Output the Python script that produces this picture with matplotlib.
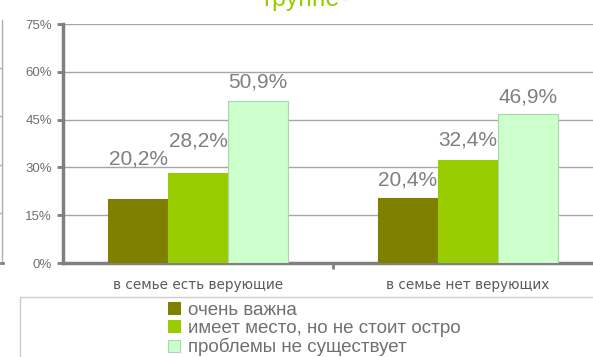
import matplotlib
matplotlib.use("Agg")
import matplotlib.pyplot as plt
from matplotlib.patches import Rectangle
from matplotlib.lines import Line2D
from matplotlib.ticker import FuncFormatter
import numpy as np

plt.rcParams['font.family'] = ['Liberation Sans', 'DejaVu Sans']

categories = ["в семье есть верующие", "в семье нет верующих"]
series_names = ["очень важна", "имеет место, но не стоит остро", "проблемы не существует"]
values_important = [20.2, 20.4]
values_present = [28.2, 32.4]
values_absent = [50.9, 46.9]
yticks = [0, 15, 30, 45, 60, 75]
title_text = "группе"

colors = ["#808000", "#99cc00", "#ccffcc"]
edges = ["#808000", "#99cc00", "#a8d8a8"]
gray = "#7f7f7f"

# vertical distance (pixels) from bar top to the centre of its value label
label_lift = [[40, 18], [32, 20], [19, 17]]

W, H = 593, 357
fig = plt.figure(figsize=(W / 100, H / 100), dpi=100)

def fx(px):
    return px / W

def fy(py):
    return 1 - py / H

ax_h_px = 263 - 24
ax = fig.add_axes([fx(63), fy(263), (603 - 63) / W, ax_h_px / H])
ax.set_facecolor("white")
px_per_unit = ax_h_px / 75.0

x = np.arange(len(categories))
width = 60 / 270
all_series = [values_important, values_present, values_absent]
handles = []
for i, vals in enumerate(all_series):
    bars = ax.bar(x + (i - 1) * width, vals, width, color=colors[i],
                  edgecolor=edges[i], linewidth=0.8, label=series_names[i], zorder=3)
    handles.append(bars)
    for j, (b, v) in enumerate(zip(bars, vals)):
        ax.text(b.get_x() + b.get_width() / 2, v + label_lift[i][j] / px_per_unit,
                f"{v:.1f}%".replace(".", ","), ha="center", va="center",
                fontsize=15, color=gray, zorder=4)

ax.set_xlim(-0.5, 1.5)
ax.set_ylim(0, 75)
ax.set_yticks(yticks)
ax.yaxis.set_major_formatter(FuncFormatter(lambda v, p: f"{v:.0f}%"))
ax.yaxis.grid(True, color="#a6a6a6", linewidth=1.0, zorder=0)
ax.set_axisbelow(True)

for side in ["top", "right"]:
    ax.spines[side].set_visible(False)
for side in ["left", "bottom"]:
    ax.spines[side].set_color("#808080")
    ax.spines[side].set_linewidth(2.5)

ax.tick_params(axis="y", direction="out", length=4, width=2, color="#808080",
               labelsize=9.5, labelcolor="#6f6f6f", pad=4)
ax.set_xticks([0.5])
ax.set_xticklabels([""])
ax.tick_params(axis="x", direction="out", length=4, width=2, color="#808080")

for xi, lab in zip(x, categories):
    ax.text(xi, -22.5 / px_per_unit, lab, ha="center", va="center", fontsize=9.8,
            family="DejaVu Sans", color="#5a5a5a", transform=ax.transData, clip_on=False)

# legend frame (top and left edges)
fig.patches.append(Rectangle((fx(20), -0.1), 1.1, fy(297) + 0.1, transform=fig.transFigure,
                             fill=False, edgecolor="#cccccc", linewidth=1.0))

leg = fig.legend(handles=handles, labels=series_names, loc="upper left",
                 bbox_to_anchor=(fx(168), fy(302)), frameon=False, fontsize=13.5,
                 handlelength=0.64, handleheight=0.62, handletextpad=0.4,
                 labelspacing=0.05, borderpad=0.0, borderaxespad=0.0)
for t in leg.get_texts():
    t.set_color("#707070")

# neighbouring axis line at the far left edge
fig.add_artist(Line2D([fx(2), fx(2)], [fy(20), fy(263)], transform=fig.transFigure,
                      color="#b0b0b0", linewidth=1.0))
for ty in [68, 116, 165, 213]:
    fig.add_artist(Line2D([fx(0), fx(2)], [fy(ty), fy(ty)], transform=fig.transFigure,
                          color="#b0b0b0", linewidth=1.0))
fig.add_artist(Line2D([fx(1), fx(3)], [fy(263), fy(263)], transform=fig.transFigure,
                      color="#808080", linewidth=2.0))

fig.text(fx(263), fy(6), title_text, ha="left", va="baseline", fontsize=18,
         color="#99cc00")
fig.text(fx(343), fy(2), "**", ha="left", va="baseline", fontsize=6,
         color="#c8e08a")

fig.savefig("out.png", dpi=100, facecolor="white")
